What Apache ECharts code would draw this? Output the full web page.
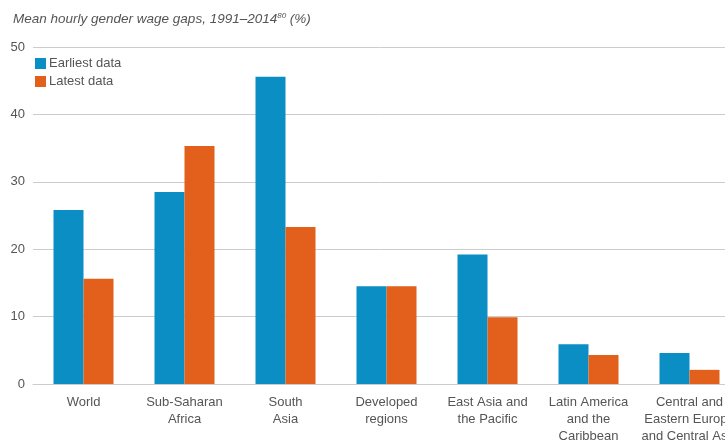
<!DOCTYPE html>
<html><head><meta charset="utf-8">
<script src="https://cdn.jsdelivr.net/npm/echarts@6/dist/echarts.min.js"></script>
<style>html,body{margin:0;padding:0;background:#fff}#c{width:725px;height:440px}</style>
</head><body><div id="c"></div>
<script>
const categories = ["World", "Sub-Saharan\nAfrica", "South\nAsia", "Developed\nregions", "East Asia and\nthe Pacific", "Latin America\nand the\nCaribbean", "Central and\nEastern Europe\nand Central Asia"];
const earliest = [25.8, 28.5, 45.6, 14.5, 19.2, 5.9, 4.6];
const latest = [15.6, 35.3, 23.3, 14.5, 9.9, 4.3, 2.1];
const yTicks = [0, 10, 20, 30, 40, 50];

const chart = echarts.init(document.getElementById('c'), null, {renderer: 'canvas'});
const font = 'Liberation Sans';
chart.setOption({
  animation: false,
  title: {
    text: '{a|Mean hourly gender wage gaps, 1991–2014}{s|80}{a| (%)}',
    left: 8, top: 7,
    textStyle: {
      fontWeight: 'normal',
      rich: {
        a: {fontFamily: font, fontStyle: 'italic', fontWeight: 'normal', fontSize: 13.5, color: '#555'},
        s: {fontFamily: font, fontStyle: 'italic', fontWeight: 'normal', fontSize: 8, color: '#555', verticalAlign: 'bottom', padding: [0, 0, 7, 0]}
      }
    }
  },
  legend: {
    orient: 'vertical', left: 30, top: 52, itemWidth: 11, itemHeight: 11, itemGap: 5,
    icon: 'rect',
    textStyle: {fontFamily: font, fontSize: 13, color: '#555', padding: [0,0,0,-2]},
    data: ['Earliest data', 'Latest data']
  },
  grid: {left: 33, top: 47, width: 707, height: 337, outerBoundsMode: 'none', containLabel: false},
  xAxis: {
    type: 'category', data: categories,
    axisLine: {show: true, lineStyle: {color: '#ccc'}},
    axisTick: {show: false},
    axisLabel: {fontFamily: font, fontSize: 13, color: '#555', lineHeight: 17, margin: 10, interval: 0}
  },
  yAxis: {
    type: 'value', min: yTicks[0], max: yTicks[yTicks.length-1], interval: 10,
    axisLine: {show: false}, axisTick: {show: false},
    splitLine: {lineStyle: {color: '#ccc', width: 1}},
    axisLabel: {fontFamily: font, fontSize: 13, color: '#555', margin: 8}
  },
  series: [
    {name: 'Earliest data', type: 'bar', data: earliest, barWidth: 30, barGap: '0%', itemStyle: {color: '#0b8ec3'}},
    {name: 'Latest data', type: 'bar', data: latest, barWidth: 30, barGap: '0%', itemStyle: {color: '#e2601b'}}
  ]
});
</script></body></html>
